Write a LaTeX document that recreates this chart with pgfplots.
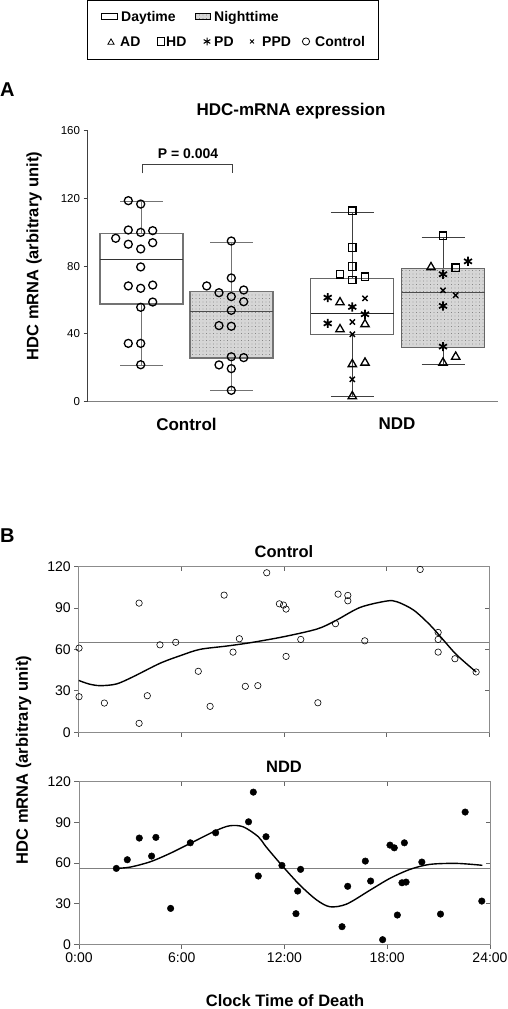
\documentclass[border=0pt]{standalone}
\usepackage{fontspec}
\setmainfont{Liberation Sans}
\usepackage{pgfplots}
\pgfplotsset{compat=1.18}
\usepgfplotslibrary{statistics}
\usetikzlibrary{patterns,patterns.meta}

\tikzset{nightfill/.style={fill=black!16, postaction={pattern={Dots[distance=3.5pt,radius=0.45pt]}, pattern color=black!65}}}
\newcommand{\bfs}[1]{\fontsize{#1}{#1}\selectfont\bfseries}

\begin{document}
\begin{tikzpicture}
\useasboundingbox (0pt,0pt) rectangle (507pt,1009pt);

\begin{scope}[x=1pt,y=1pt]
% ---------------- legend ----------------
\draw[line width=0.9pt] (87.3,1008.3) rectangle (378.7,949.3);
\draw[line width=0.8pt] (101,989.8) rectangle (117,995.2);
\draw[line width=0.6pt, nightfill] (195.3,989.8) rectangle (210.7,995.2);
\node[anchor=base west, inner sep=0pt, font=\bfs{14}] at (121,987.3) {Daytime};
\node[anchor=base west, inner sep=0pt, font=\bfs{14}] at (214,987.3) {Nighttime};
\begin{scope}[shift={(111,966.5)}, line width=0.8pt]\pgfsetplotmarksize{3.6pt}\pgfuseplotmark{triangle}\end{scope}
\begin{scope}[shift={(161,967.5)}, line width=0.8pt]\pgfsetplotmarksize{3.6pt}\pgfuseplotmark{square}\end{scope}
\begin{scope}[shift={(207,967.5)}, line width=1pt]\pgfsetplotmarksize{3.8pt}\pgfuseplotmark{asterisk}\end{scope}
\begin{scope}[shift={(252,967.5)}, line width=0.8pt]\pgfsetplotmarksize{2.8pt}\pgfuseplotmark{x}\end{scope}
\begin{scope}[shift={(306,967.5)}, line width=0.8pt]\pgfsetplotmarksize{3.6pt}\pgfuseplotmark{o}\end{scope}
\node[anchor=base west, inner sep=0pt, font=\bfs{14}] at (120,962.3) {AD};
\node[anchor=base west, inner sep=0pt, font=\bfs{14}] at (166,962.3) {HD};
\node[anchor=base west, inner sep=0pt, font=\bfs{14}] at (214,962.3) {PD};
\node[anchor=base west, inner sep=0pt, font=\bfs{14}] at (262,962.3) {PPD};
\node[anchor=base west, inner sep=0pt, font=\bfs{14}] at (315,962.3) {Control};

% ---------------- panel A texts ----------------
\node[anchor=base west, inner sep=0pt, font=\bfs{20}] at (0,912) {A};
\node[font=\bfs{17}] at (291,898) {HDC-mRNA expression};
\node[rotate=90, font=\bfs{16.5}] at (34,753) {HDC mRNA (arbitrary unit)};

% ---------------- panel B texts ----------------
\node[anchor=base west, inner sep=0pt, font=\bfs{20}] at (0,466) {B};
\node[rotate=90, font=\bfs{16.5}] at (23.5,249) {HDC mRNA (arbitrary unit)};
\node[font=\bfs{16.5}] at (284,457.3) {Control};
\node[font=\bfs{16.5}] at (284,242.3) {NDD};
\node[font=\bfs{16.5}] at (285,8) {Clock Time of Death};
\end{scope}

% ---------------- panel A ----------------
\begin{axis}[at={(87pt,607.3pt)}, anchor=south west, scale only axis,
  width=410.7pt, height=271.2pt,
  xmin=0, xmax=410.7, ymin=0, ymax=160,
  axis x line*=bottom, axis y line*=left,
  x axis line style={-, black!50, line width=1.3pt},
  y axis line style={-, black!75, line width=1pt},
  ytick={0,40,...,160}, xtick={99.5,310}, xticklabels={Control,NDD},
  xticklabel style={font=\bfs{17}, yshift=-9pt},
  x tick style={draw=none},
  y tick style={black!75, line width=0.8pt},
  yticklabel style={font=\fontsize{11.5}{13}\selectfont},
  tick align=outside, major tick length=3.5pt,
  boxplot/draw direction=y,
  /pgf/number format/assume math mode=true, clip=false]

% boxes
\addplot[boxplot prepared={draw position=54.5, lower whisker=21.5, lower quartile=57.6, median=84, upper quartile=99.3, upper whisker=118, box extend=83, whisker extend=43},
  draw=black!55, line width=1.2pt,
  boxplot/every median/.style={draw=black!80, line width=1pt},
  boxplot/every whisker/.style={draw=black!55, line width=1.2pt}] coordinates {};
\addplot[boxplot prepared={draw position=144.5, lower whisker=6.5, lower quartile=25.8, median=53.5, upper quartile=65.1, upper whisker=93.8, box extend=83, whisker extend=43},
  draw=black!55, line width=1.2pt,
  boxplot/every box/.style={nightfill},
  boxplot/every median/.style={draw=black!70, line width=1pt},
  boxplot/every whisker/.style={draw=black!55, line width=1.2pt}] coordinates {};
\addplot[boxplot prepared={draw position=265.3, lower whisker=3.2, lower quartile=39.7, median=52.3, upper quartile=72.6, upper whisker=111.7, box extend=83, whisker extend=43},
  draw=black!60, line width=1pt,
  boxplot/every median/.style={draw=black!85, line width=0.9pt},
  boxplot/every whisker/.style={draw=black!75, line width=0.9pt}] coordinates {};
\addplot[boxplot prepared={draw position=356, lower whisker=22.2, lower quartile=31.9, median=64.5, upper quartile=78.3, upper whisker=97, box extend=83, whisker extend=43},
  draw=black!60, line width=1pt,
  boxplot/every box/.style={nightfill},
  boxplot/every median/.style={draw=black!70, line width=1.1pt},
  boxplot/every whisker/.style={draw=black!75, line width=0.9pt}] coordinates {};

% Control points (circles)
\addplot[only marks, mark=o, mark size=4pt, line width=1.3pt, black] coordinates {
(41.3,118.6)(53.7,116.6)(41.3,101.3)(53.7,99.9)(65.7,100.9)(28.7,96.4)(41.3,92.9)(53.7,90.1)(65.7,93.8)(53.7,79.5)(41.3,68.3)(53.7,66.9)(65.7,68.8)(65.7,58.8)(53.7,55.7)(41.3,34.4)(53.7,34.4)(53.7,21.8)
(144.3,94.8)(144.3,73)(119.7,68.3)(132,64.3)(144.3,62)(156.7,65.9)(156.7,59)(144.3,53.9)(132,44.9)(144.3,44.5)(144.3,26.5)(156.7,26)(132,21.7)(144.3,19.5)(144.3,6.7)};
% HD squares
\addplot[only marks, mark=square, mark size=3.8pt, line width=1.3pt, black] coordinates {
(265.3,112.7)(265.3,90.9)(265.3,79.7)(253,75.2)(265.3,71.8)(278,73.6)
(356,97.9)(368.7,79)};
% PD asterisks
\addplot[only marks, mark=asterisk, mark size=4.6pt, line width=1.7pt, black] coordinates {
(240.7,61.4)(265.3,55.9)(278,51.6)(240.7,46.2)
(381,82.8)(356,75.2)(356,56.5)(356,32.5)};
% AD triangles
\addplot[only marks, mark=triangle, mark size=4.8pt, line width=1.3pt, black] coordinates {
(253,58.6)(278,45.7)(253,42.7)(265.3,22.1)(278,23)(265.3,3.2)
(344,79.3)(368.7,26.5)(356,23)};
% PPD crosses
\addplot[only marks, mark=x, mark size=3.7pt, line width=1.4pt, black] coordinates {
(278,61)(265.3,47)(265.3,39.8)(265.3,13.2)
(356,65.7)(368.7,62.8)};

% p-value bracket
\draw[black!75, line width=0.9pt] (axis cs:55,134.7) -- (axis cs:55,140.2) -- (axis cs:145,140.2) -- (axis cs:145,134.7);
\node[font=\bfs{14}] at (axis cs:101,146.5) {P = 0.004};
\end{axis}

% ---------------- panel B ----------------
\pgfplotsset{
  bpanel/.style={scale only axis, anchor=south west,
    xmin=0, xmax=24, ymin=0, ymax=120,
    xtick={0,6,...,24}, ytick={0,30,...,120},
    /pgf/number format/assume math mode=true},
  bmain/.style={bpanel, xtick pos=left, ytick pos=left, tick align=outside,
    major tick length=4.5pt,
    axis line style={black!45, line width=0.9pt},
    tick style={black!60, line width=0.8pt},
    yticklabel style={font=\fontsize{14}{16}\selectfont},
    xticklabel style={font=\fontsize{14}{16}\selectfont}},
  bover/.style={bpanel, xtick pos=right, ytick pos=right, tick align=inside,
    major tick length=4.5pt, xtick={6,12,18}, ytick={30,60,90},
    xticklabels={}, yticklabels={},
    axis line style={draw=none},
    tick style={black!60, line width=0.8pt}}
}

% Control
\begin{axis}[bmain, at={(78.7pt,276.7pt)}, width=410.6pt, height=165.6pt, xticklabels={}]
\addplot[black!50, line width=1pt] coordinates {(0,65.2) (24,65.2)};
\addplot[only marks, mark=o, mark size=3.2pt, line width=0.6pt, black] coordinates {
(0.02,61)(0.02,25.8)(1.5,21.2)(3.53,93.6)(3.53,6.5)(4.01,26.5)(4.75,63.4)(5.67,65.2)(6.99,44.2)(7.68,18.8)(8.5,99.4)(9.02,58.1)(9.39,67.8)(9.74,33.3)(10.47,33.8)(10.99,115.6)(11.73,93.1)(11.97,92.2)(12.12,89.3)(12.12,55)(12.98,67.3)(13.98,21.4)(15.01,78.7)(15.16,100.1)(15.73,99.2)(15.73,95.3)(16.72,66.3)(19.96,118)(21.01,72.4)(21.01,67.3)(21.01,58.1)(21.99,53.3)(23.23,43.7)};
\addplot[black, line width=1.4pt, smooth] coordinates {
(0,37.6)(0.6,35)(1.25,33.8)(2.2,35)(3.19,40.3)(4.75,50)(6,55.8)(7.09,60.1)(8.65,62.5)(10.02,64.9)(11.96,69.2)(13.92,74.8)(15,80.8)(16.45,90.5)(17.99,95.1)(18.6,94.6)(19.57,88.6)(20.54,77.7)(21.32,66.8)(22.1,56)(23.23,43.7)};
\end{axis}
\begin{axis}[bover, at={(78.7pt,276.7pt)}, width=410.6pt, height=165.6pt]
\end{axis}

% NDD
\begin{axis}[bmain, at={(79pt,64.7pt)}, width=411pt, height=162.6pt,
  xticklabels={0:00,6:00,12:00,18:00,24:00}]
\addplot[black!50, line width=1pt] coordinates {(0,56.3) (24,56.3)};
\addplot[only marks, mark=*, mark size=3.3pt, black] coordinates {
(2.18,56)(2.82,62.4)(3.52,78.4)(4.24,65.1)(4.49,78.9)(5.35,26.5)(6.5,74.9)(7.98,82.3)(9.9,90.4)(10.18,112.3)(10.47,50.4)(10.92,79.4)(11.85,58.2)(12.94,55.3)(12.77,39.3)(12.67,22.6)(15.36,13)(15.69,42.8)(16.72,61.4)(17.03,46.7)(17.73,3.4)(18.16,73.2)(18.41,71.2)(18.59,21.6)(18.86,45.4)(19.1,45.9)(19.0,74.9)(20.02,60.7)(21.11,22.3)(22.55,97.6)(23.52,31.9)};
\addplot[black, line width=1.4pt, smooth] coordinates {
(2.18,56)(3,57)(4.16,60.9)(5.3,67)(6.5,74.5)(7.98,83.8)(8.81,87.5)(9.59,86.7)(10.47,79.4)(10.92,72)(11.85,58.2)(12.9,43.7)(13.88,32.7)(14.66,27.7)(15.63,29.7)(17,40)(18.16,48.7)(19.33,55.3)(20.5,59)(22.06,59.7)(23.55,58.3)};
\end{axis}
\begin{axis}[bover, at={(79pt,64.7pt)}, width=411pt, height=162.6pt]
\end{axis}

\end{tikzpicture}
\end{document}
